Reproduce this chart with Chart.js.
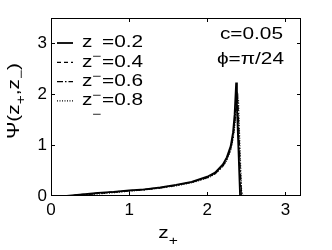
<!DOCTYPE html>
<html>
<head>
<meta charset="utf-8">
<script src="https://cdn.jsdelivr.net/npm/chart.js@4.4.1/dist/chart.umd.min.js"></script>
<style>
  body { margin: 0; background: #fff; }
  #wrap { width: 332px; height: 250px; }
</style>
</head>
<body>
<div id="wrap"><canvas id="grafico"></canvas></div>
<script>
// z+ grid shared by all four curves
const zPlus = [0.2, 0.4, 0.6, 0.8, 1.0, 1.2, 1.4, 1.6, 1.8, 2.0, 2.1, 2.2, 2.25, 2.3, 2.33, 2.35, 2.37, 2.38, 2.39, 2.40, 2.42, 2.44, 2.46, 2.6, 3.2];

const psi02 = [0, 0.03, 0.06, 0.08, 0.11, 0.13, 0.17, 0.22, 0.28, 0.38, 0.46, 0.62, 0.76, 0.98, 1.25, 1.6, 2.23, 1.78, 1.33, 0.89, 0, 0, 0, 0, 0];
const psi04 = [0, 0.03, 0.055, 0.08, 0.105, 0.13, 0.165, 0.21, 0.27, 0.37, 0.45, 0.6, 0.74, 0.94, 1.18, 1.45, 1.85, 2.05, 1.6, 1.15, 0.25, 0, 0, 0, 0];
const psi06 = [0, 0.02, 0.05, 0.075, 0.1, 0.125, 0.16, 0.21, 0.27, 0.36, 0.44, 0.59, 0.72, 0.92, 1.15, 1.4, 1.75, 1.9, 1.95, 1.5, 0.6, 0, 0, 0, 0];
const psi08 = [0, 0.015, 0.04, 0.065, 0.095, 0.12, 0.155, 0.2, 0.26, 0.35, 0.43, 0.58, 0.7, 0.9, 1.12, 1.35, 1.65, 1.8, 1.88, 1.9, 0.9, 0.1, 0, 0, 0];

const legendValues = ["0.2", "0.4", "0.6", "0.8"];
const xTicks = [0, 1, 2, 3];
const yTicks = [0, 1, 2, 3];

const estilos = [
    { dash: [], width: 1.8 },
    { dash: [4, 3], width: 1.3 },
    { dash: [6, 2, 1.5, 2], width: 1.3 },
    { dash: [1, 1.5], width: 1.2 }
];

const FONTE = '"Liberation Sans", Arial, sans-serif';
const ESTICA = 1.3;

function pontos(ys) {
    return zPlus.map((z, i) => ({ x: z, y: ys[i] }));
}

// draws text pieces [{t, dy, size}] stretched horizontally like the original
function textoRico(ctx, partes, x, y, align) {
    ctx.save();
    let total = 0;
    partes.forEach(p => {
        ctx.font = p.size + "px " + FONTE;
        total += ctx.measureText(p.t).width;
    });
    ctx.translate(x, y);
    ctx.scale(ESTICA, 1);
    let cx = 0;
    if (align === "right") cx = -total;
    if (align === "center") cx = -total / 2;
    ctx.textBaseline = "middle";
    ctx.textAlign = "left";
    ctx.fillStyle = "#000";
    partes.forEach(p => {
        ctx.font = p.size + "px " + FONTE;
        ctx.fillText(p.t, cx, p.dy || 0);
        cx += ctx.measureText(p.t).width;
    });
    ctx.restore();
}

const moldura = {
    id: "moldura",
    afterDraw(chart) {
        const ctx = chart.ctx;
        const a = chart.chartArea;
        const sx = chart.scales.x, sy = chart.scales.y;
        ctx.save();
        ctx.strokeStyle = "#000";
        ctx.lineWidth = 1;
        ctx.strokeRect(a.left + 0.5, a.top + 0.5, a.right - a.left - 1, a.bottom - a.top - 1);
        const tl = 4;
        ctx.beginPath();
        xTicks.slice(1).forEach(v => {
            const px = Math.round(sx.getPixelForValue(v)) + 0.5;
            ctx.moveTo(px, a.bottom); ctx.lineTo(px, a.bottom - tl);
            ctx.moveTo(px, a.top); ctx.lineTo(px, a.top + tl);
        });
        yTicks.slice(1).forEach(v => {
            const py = Math.round(sy.getPixelForValue(v)) + 0.5;
            ctx.moveTo(a.left, py); ctx.lineTo(a.left + tl, py);
            ctx.moveTo(a.right, py); ctx.lineTo(a.right - tl, py);
        });
        ctx.stroke();

        // legend
        legendValues.forEach((v, i) => {
            const y = 43 + i * 19.3;
            ctx.save();
            ctx.setLineDash(estilos[i].dash);
            ctx.lineWidth = estilos[i].width;
            ctx.beginPath();
            ctx.moveTo(57, y); ctx.lineTo(73, y);
            ctx.stroke();
            ctx.restore();
            textoRico(ctx, [{ t: "z", size: 16 }], 82, y, "left");
            textoRico(ctx, [{ t: "\u2212", size: 12 }], 92, y + 14, "left");
            textoRico(ctx, [{ t: "=" + v, size: 16 }], 102, y, "left");
        });

        // annotations
        textoRico(ctx, [{ t: "c=0.05", size: 16 }], 283, 35, "right");
        textoRico(ctx, [{ t: "\u03d5=\u03c0/24", size: 16 }], 284, 60, "right");

        // axis titles
        textoRico(ctx, [{ t: "z", size: 16 }, { t: "+", size: 12, dy: 8 }], 168, 234, "center");
        ctx.save();
        ctx.translate(15, 101);
        ctx.rotate(-Math.PI / 2);
        textoRico(ctx, [
            { t: "\u03a8(z", size: 16 }, { t: "+", size: 12, dy: 7 },
            { t: ",z", size: 16 }, { t: "\u2212", size: 12, dy: 7 },
            { t: ")", size: 16 }
        ], 0, 0, "center");
        ctx.restore();
        ctx.restore();
    }
};

const conjuntos = [psi02, psi04, psi06, psi08].map((ys, i) => ({
    label: "z=" + legendValues[i],
    data: pontos(ys),
    borderColor: "#000",
    borderWidth: estilos[i].width,
    borderDash: estilos[i].dash,
    pointRadius: 0,
    fill: false,
    tension: 0
}));

let ctx = document.getElementById("grafico").getContext("2d");

let grafico = new Chart(ctx, {
    type: "line",
    data: { datasets: conjuntos },
    options: {
        responsive: true,
        maintainAspectRatio: false,
        animation: false,
        layout: { padding: { left: 0, right: 31, top: 18, bottom: 0 } },
        plugins: {
            legend: { display: false },
            tooltip: { enabled: false }
        },
        scales: {
            x: {
                type: "linear",
                min: 0,
                max: 3.2,
                afterFit(s) { s.height = 54; },
                grid: { display: false, drawTicks: false },
                border: { display: false },
                ticks: {
                    stepSize: 1,
                    includeBounds: false,
                    padding: 4,
                    color: "#000",
                    font: { size: 17, family: FONTE }
                }
            },
            y: {
                min: 0,
                max: 3.5,
                afterFit(s) { s.width = 51; },
                grid: { display: false, drawTicks: false },
                border: { display: false },
                ticks: {
                    stepSize: 1,
                    includeBounds: false,
                    padding: 4,
                    color: "#000",
                    font: { size: 17, family: FONTE }
                }
            }
        }
    },
    plugins: [moldura]
});
</script>
</body>
</html>
